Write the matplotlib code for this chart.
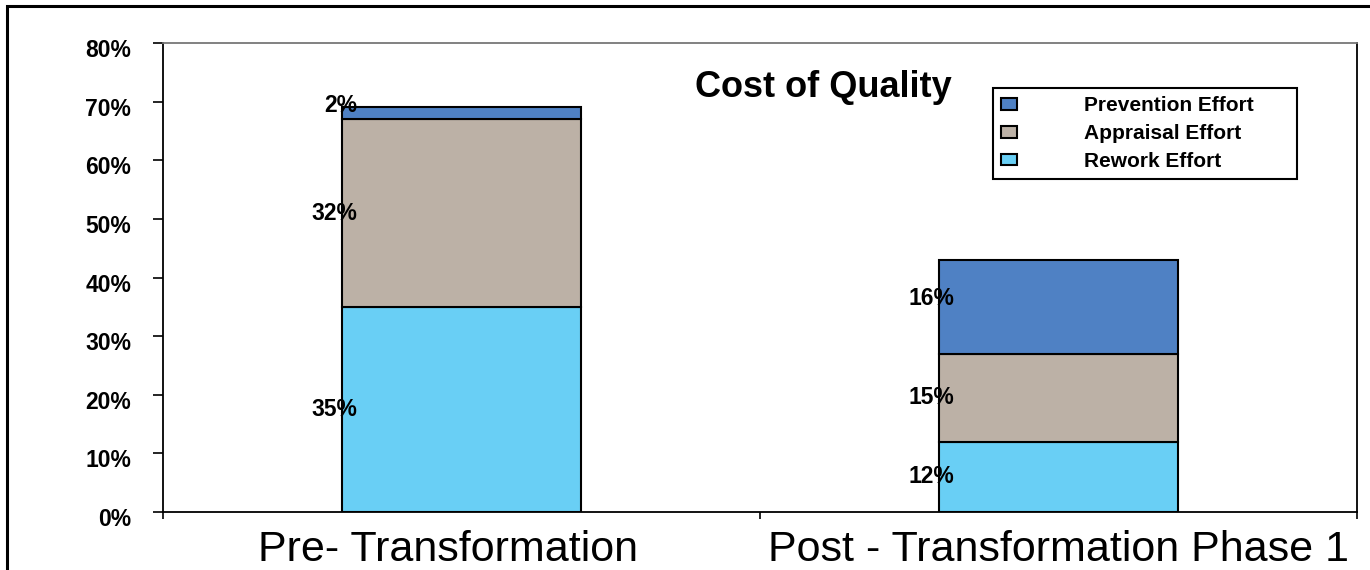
import matplotlib.pyplot as plt
import matplotlib.transforms as mtransforms
from matplotlib.patches import Rectangle
import numpy as np

plt.rcParams['font.family'] = ['Liberation Sans', 'DejaVu Sans']

# data
categories = ["Pre- Transformation", "Post - Transformation Phase 1"]
series = ["Rework Effort", "Appraisal Effort", "Prevention Effort"]
rework = [35, 12]
appraisal = [32, 15]
prevention = [2, 16]
colors = ["#69CFF5", "#BCB1A6", "#4F81C4"]
yticks = [0, 10, 20, 30, 40, 50, 60, 70, 80]

fig = plt.figure(figsize=(13.7, 5.7), dpi=100)
ax = fig.add_axes([163/1370, 1-512/570, (1357-163)/1370, (512-43)/570])

x = np.arange(len(categories))
width = 0.4
bottom = np.zeros(len(categories))
handles = []
for i, (vals, col) in enumerate(zip([rework, appraisal, prevention], colors)):
    vals = np.array(vals, dtype=float)
    bars = ax.bar(x, vals, width, bottom=bottom, color=col, edgecolor="black",
                  linewidth=1.5, label=series[i])
    handles.append(bars)
    # value labels, right-aligned near left edge of bar
    for xi, v, b in zip(x, vals, bottom):
        dy = 6 if i == 2 else 0
        ax.annotate("%d%%" % v, xy=(xi - width/2 + 0.026, b + v/2),
                    xytext=(0, dy), textcoords="offset points",
                    ha="right", va="center", fontsize=16.5, fontweight="bold")
    bottom += vals

ax.set_xlim(-0.5, 1.5)
ax.set_ylim(0, 80)
ax.set_yticks(yticks)
ax.set_yticklabels(["%d%%" % t for t in yticks], fontsize=16.5, fontweight="bold")
ax.tick_params(axis="y", direction="out", length=7, width=1.2, pad=16)
offset = mtransforms.ScaledTranslation(0, -5/100, fig.dpi_scale_trans)
for lab in ax.get_yticklabels():
    lab.set_transform(lab.get_transform() + offset)

ax.set_xticks(x)
ax.set_xticklabels(categories, fontsize=31)
ax.set_xticks([-0.5, 0.5, 1.5], minor=True)
ax.tick_params(axis="x", which="major", length=0, pad=13)
ax.tick_params(axis="x", which="minor", direction="out", length=5, width=1.2)
# first label sits a little left of its bar in the original
xoff = mtransforms.ScaledTranslation(-14/100, 0, fig.dpi_scale_trans)
lab0 = ax.get_xticklabels()[0]
lab0.set_transform(lab0.get_transform() + xoff)

for s in ["left", "bottom", "right"]:
    ax.spines[s].set_linewidth(1.3)
    ax.spines[s].set_color("black")
ax.spines["top"].set_linewidth(1.3)
ax.spines["top"].set_color("#777777")

ax.text(0.553, 0.905, "Cost of Quality", transform=ax.transAxes,
        ha="center", va="center", fontsize=26, fontweight="bold")

lx0 = (993-163)/1194
lw = (1297-993)/1194
ly1 = (512-88)/469
leg = ax.legend(handles[::-1], series[::-1], loc="upper left",
                bbox_to_anchor=(lx0, ly1 - 0.2, lw, 0.2), mode="expand",
                prop={"weight": "bold", "size": 15}, frameon=True, fancybox=False,
                edgecolor="black", framealpha=1, borderpad=0.4,
                handlelength=0.75, handleheight=0.5, handletextpad=3.2,
                labelspacing=0.42, borderaxespad=0)
leg.get_frame().set_linewidth(1.5)

# outer frame of the picture
fig.add_artist(Rectangle((7/1370, -0.1), 2, 1.1 - 6/570, transform=fig.transFigure,
                         fill=False, edgecolor="black", linewidth=2.2, clip_on=False))

fig.savefig("out.png", dpi=100)
